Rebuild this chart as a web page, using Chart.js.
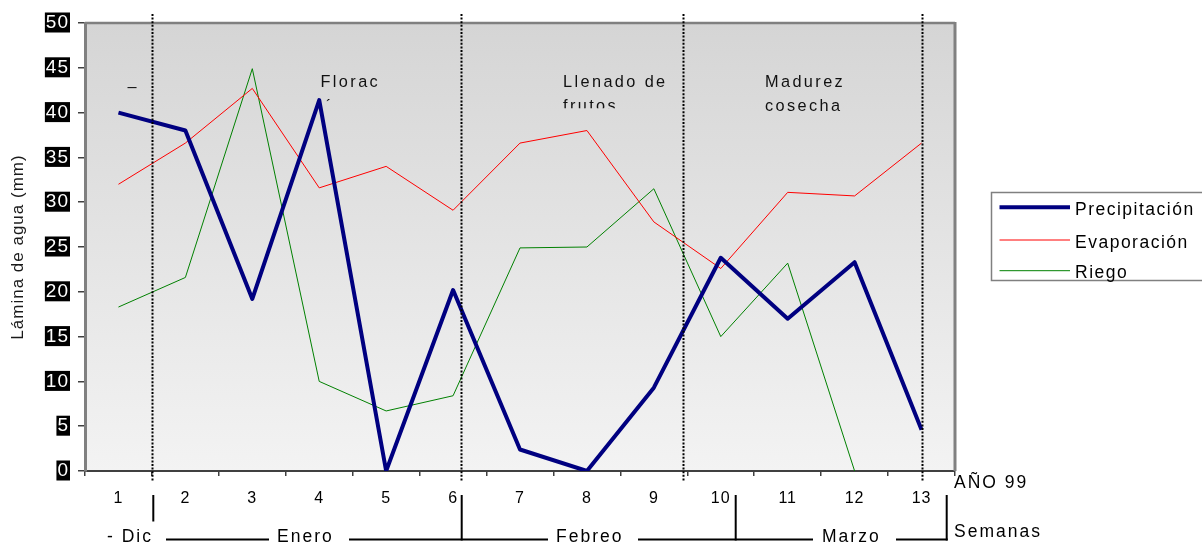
<!DOCTYPE html>
<html>
<head>
<meta charset="utf-8">
<script src="https://cdn.jsdelivr.net/npm/chart.js@4.4.1/dist/chart.umd.min.js"></script>
<style>
  html, body { margin: 0; padding: 0; background: #ffffff; overflow: hidden; }
  #wrap { width: 1202px; height: 544px; }
  canvas { display: block; }
</style>
</head>
<body>
<div id="wrap"><canvas id="chart" width="1202" height="544"></canvas></div>
<script>
// Weekly water balance, season 1999
const weeks = ['1', '2', '3', '4', '5', '6', '7', '8', '9', '10', '11', '12', '13'];
const precipitacion = [40.0, 38.0, 19.2, 41.4, 0.0, 20.2, 2.4, 0.0, 9.3, 23.8, 17.0, 23.3, 4.6];
const evaporacion   = [32.0, 36.6, 42.7, 31.6, 34.0, 29.1, 36.6, 38.0, 27.8, 22.6, 31.1, 30.7, 36.6];
const riego         = [18.3, 21.6, 44.9, 10.0, 6.7, 8.4, 24.9, 25.0, 31.5, 15.0, 23.2, 0.0, null];
const yTicks = [0, 5, 10, 15, 20, 25, 30, 35, 40, 45, 50];

// Crop stage dividers, in week units
const stageBounds = [1.5, 6.12, 9.44, 13.0];
const stageNames = [['–'], ['Florac', 'ión'], ['Llenado de', 'frutos'], ['Madurez', 'cosecha']];
const months = ['- Dic', 'Enero', 'Febreo', 'Marzo'];

const FONT = '"Liberation Sans", Arial, Helvetica, sans-serif';

function textAt(ctx, str, x, y, size, spacing, color, align) {
  ctx.save();
  ctx.font = size + 'px ' + FONT;
  ctx.letterSpacing = spacing + 'px';
  ctx.fillStyle = color || '#000';
  ctx.textAlign = align || 'left';
  ctx.textBaseline = 'alphabetic';
  ctx.fillText(str, x, y);
  ctx.restore();
}

const decorations = {
  id: 'decorations',
  beforeUpdate(chart) { chart.ctx.letterSpacing = '1px'; },
  beforeDraw(chart) {
    const { ctx, chartArea: a } = chart;
    ctx.letterSpacing = '1px';
    // plot area shading
    const g = ctx.createLinearGradient(0, a.top, 0, a.bottom);
    g.addColorStop(0, '#d5d5d5');
    g.addColorStop(1, '#f3f3f3');
    ctx.save();
    ctx.fillStyle = g;
    ctx.fillRect(a.left, a.top, a.right - a.left, a.bottom - a.top);
    ctx.restore();
  },
  beforeDatasetsDraw(chart) {
    const { ctx, scales: { x } } = chart;
    const px = w => x.getPixelForValue(w - 1);
    // stage captions (fixed-size text boxes, clipped at their lower edge)
    const boxes = [
      { x: 127.5, base: 92, clip: 120 },
      { x: 320.5, base: 86.7, clip: 101.5, second: 317 },
      { x: 563, base: 86.7, clip: 108.3 },
      { x: 765, base: 86.7, clip: 130 }
    ];
    stageNames.forEach((lines, i) => {
      const b = boxes[i];
      ctx.save();
      ctx.beginPath();
      ctx.rect(b.x - 10, 40, 200, b.clip - 40);
      ctx.clip();
      lines.forEach((t, j) => {
        const tx = j === 1 && b.second ? b.second : b.x;
        textAt(ctx, t, tx, b.base + j * 24, 16.3, 2.4, '#111');
      });
      ctx.restore();
    });
  },
  afterDatasetsDraw(chart) {
    const { ctx, chartArea: a, scales: { x } } = chart;
    // top and right frame
    ctx.save();
    ctx.strokeStyle = '#808080';
    ctx.lineWidth = 2.5;
    ctx.beginPath();
    ctx.moveTo(a.left, a.top);
    ctx.lineTo(a.right, a.top);
    ctx.stroke();
    ctx.lineWidth = 3;
    ctx.beginPath();
    ctx.moveTo(a.right, a.top - 1);
    ctx.lineTo(a.right, a.bottom);
    ctx.stroke();
    ctx.restore();
    // dotted stage dividers
    ctx.save();
    ctx.strokeStyle = '#000';
    ctx.lineWidth = 2;
    ctx.setLineDash([2, 1.6]);
    stageBounds.forEach(w => {
      const xp = Math.round(x.getPixelForValue(w - 1)) + 0.5;
      ctx.beginPath();
      ctx.moveTo(xp, 14);
      ctx.lineTo(xp, 482);
      ctx.stroke();
    });
    ctx.restore();
  },
  afterDraw(chart) {
    const { ctx } = chart;
    // month bracket row
    ctx.save();
    ctx.strokeStyle = '#000';
    ctx.lineWidth = 2;
    [[153.3, 495, 521.5], [461.7, 495, 540.5], [735.7, 495, 540.5], [946.7, 495, 540.5]].forEach(s => {
      ctx.beginPath(); ctx.moveTo(s[0], s[1]); ctx.lineTo(s[0], s[2]); ctx.stroke();
    });
    [[166, 269], [349, 548], [638, 813], [896, 947.7]].forEach(s => {
      ctx.beginPath(); ctx.moveTo(s[0], 539.5); ctx.lineTo(s[1], 539.5); ctx.stroke();
    });
    ctx.restore();
    const mx = [107, 277, 556, 822];
    months.forEach((m, i) => textAt(ctx, m, mx[i], 542, 17.5, 2, '#000'));
    textAt(ctx, 'AÑO 99', 954, 487.7, 17.5, 2, '#000');
    textAt(ctx, 'Semanas', 954, 536.7, 17.5, 2, '#000');

    // legend
    ctx.save();
    ctx.fillStyle = '#ffffff';
    ctx.fillRect(991.5, 192.5, 220, 88);
    ctx.strokeStyle = '#808080';
    ctx.lineWidth = 1.5;
    ctx.strokeRect(991.5, 192.5, 220, 88);
    ctx.restore();
    const rows = [207.3, 240, 270.7];
    chart.data.datasets.forEach((ds, i) => {
      ctx.save();
      ctx.strokeStyle = ds.borderColor;
      ctx.lineWidth = ds.borderWidth;
      ctx.beginPath();
      ctx.moveTo(999.5, rows[i]);
      ctx.lineTo(1070, rows[i]);
      ctx.stroke();
      ctx.restore();
      textAt(ctx, ds.label, 1075, rows[i] + 7.6, 17.5, 1.5, '#000');
    });
  }
};

new Chart(document.getElementById('chart'), {
  type: 'line',
  data: {
    labels: weeks,
    datasets: [
      { label: 'Precipitación', data: precipitacion, borderColor: '#000080', borderWidth: 4,
        pointRadius: 0, tension: 0, borderJoinStyle: 'round', fill: false },
      { label: 'Evaporación', data: evaporacion, borderColor: '#ff0000', borderWidth: 1,
        pointRadius: 0, tension: 0, fill: false },
      { label: 'Riego', data: riego, borderColor: '#008000', borderWidth: 1,
        pointRadius: 0, tension: 0, fill: false, spanGaps: false }
    ]
  },
  options: {
    responsive: false,
    devicePixelRatio: 1,
    animation: false,
    events: [],
    layout: { padding: { left: 0, top: 23, right: 247, bottom: 0 } },
    plugins: { legend: { display: false }, tooltip: { enabled: false } },
    scales: {
      x: {
        type: 'category',
        offset: true,
        grid: { offset: true, drawOnChartArea: false, drawTicks: true, tickLength: 5, color: '#404040', lineWidth: 1.5 },
        border: { display: true, color: '#404040', width: 2 },
        ticks: { color: '#000', font: { family: FONT, size: 16 }, padding: 12.5, maxRotation: 0, autoSkip: false },
        afterFit(s) { s.height = 73; }
      },
      y: {
        type: 'linear',
        min: 0,
        max: 50,
        afterBuildTicks(s) { s.ticks = yTicks.map(v => ({ value: v })); },
        grid: { drawOnChartArea: false, drawTicks: true, tickLength: 7, color: '#404040', lineWidth: 1.5 },
        border: { display: true, color: '#808080', width: 3 },
        ticks: {
          color: '#ffffff',
          font: { family: FONT, size: 19, lineHeight: 1 },
          padding: 9,
          showLabelBackdrop: true,
          backdropColor: '#000000',
          backdropPadding: { top: 1, bottom: 0, left: 1, right: 1 }
        },
        title: {
          display: true,
          text: 'Lámina de agua (mm)',
          color: '#1a1a1a',
          font: { family: FONT, size: 17 },
          padding: { top: 8, bottom: 0 }
        },
        afterFit(s) { s.width = 85; }
      }
    }
  },
  plugins: [decorations]
});
</script>
</body>
</html>
